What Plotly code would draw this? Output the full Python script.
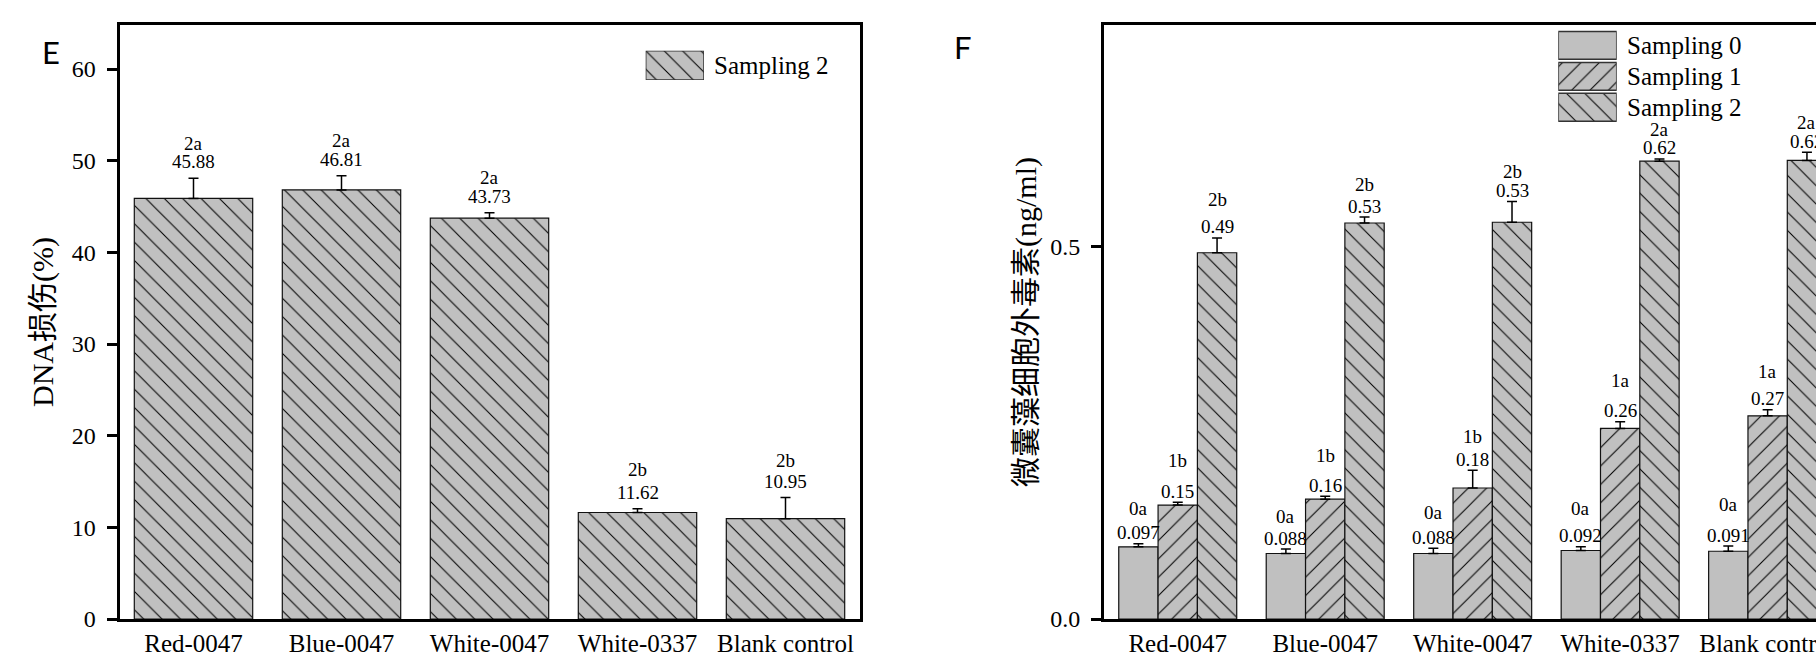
import plotly.graph_objects as go

# ---------------- data ----------------
categories = ["Red-0047", "Blue-0047", "White-0047", "White-0337", "Blank control"]

# Panel E: DNA damage (%), Sampling 2
dna_damage = [45.88, 46.81, 43.73, 11.62, 10.95]
dna_err = [2.2, 1.55, 0.6, 0.4, 2.3]
dna_labels = ["45.88", "46.81", "43.73", "11.62", "10.95"]
dna_letters = ["2a", "2a", "2a", "2b", "2b"]

# Panel F: extracellular microcystin (ng/ml)
series_names = ["Sampling 0", "Sampling 1", "Sampling 2"]
samp0 = [0.097, 0.088, 0.088, 0.092, 0.091]
samp0_err = [0.004, 0.006, 0.007, 0.005, 0.007]
samp0_labels = ["0.097", "0.088", "0.088", "0.092", "0.091"]
samp0_letters = ["0a", "0a", "0a", "0a", "0a"]

samp1 = [0.153, 0.161, 0.176, 0.256, 0.273]
samp1_err = [0.004, 0.004, 0.024, 0.009, 0.008]
samp1_labels = ["0.15", "0.16", "0.18", "0.26", "0.27"]
samp1_letters = ["1b", "1b", "1b", "1a", "1a"]

samp2 = [0.492, 0.532, 0.533, 0.615, 0.616]
samp2_err = [0.02, 0.008, 0.028, 0.003, 0.011]
samp2_labels = ["0.49", "0.53", "0.53", "0.62", "0.62"]
samp2_letters = ["2b", "2b", "2b", "2a", "2a"]

# ---------------- style / layout ----------------
W, H = 1816, 657
T, B = 25, 38
PH = H - T - B
SERIF = "'Liberation Serif', 'Times New Roman', serif"
CJK = "'Liberation Serif', 'Noto Sans CJK SC', serif"
GRAY = "#c0c0c0"
patterns = ["", "/", "\\"]
bar_w = 0.8

# pixel gaps of the letter label above the number label (style only)
left_letter_gap = [18.5, 18.5, 18.5, 23, 21]
right_letter_gap = [
    [24, 22, 25, 27, 31],
    [31, 30, 23, 30, 27],
    [27, 22, 19, 18.5, 18.5],
]


def fx(px):
    return px / W


def fy(py):
    return (H - B - py) / PH


def marker(shape):
    m = dict(color=GRAY, line=dict(color="#111111", width=1.2))
    if shape:
        m["pattern"] = dict(shape=shape, size=13, solidity=0.08,
                            fgcolor="#000000", bgcolor=GRAY, fillmode="replace")
    return m


fig = go.Figure()
xs = list(range(len(categories)))

# Panel E bars
fig.add_trace(go.Bar(
    x=xs, y=dna_damage, width=bar_w, xaxis="x", yaxis="y",
    marker=marker("\\"), showlegend=False, hoverinfo="skip",
    error_y=dict(type="data", array=dna_err, arrayminus=[0] * len(dna_err),
                 symmetric=False, color="#000000", thickness=1.5, width=5),
))

# Panel F bars
f_vals = [samp0, samp1, samp2]
f_errs = [samp0_err, samp1_err, samp2_err]
f_labels = [samp0_labels, samp1_labels, samp2_labels]
f_letters = [samp0_letters, samp1_letters, samp2_letters]
for k, name in enumerate(series_names):
    fig.add_trace(go.Bar(
        x=xs, y=f_vals[k], name=name, xaxis="x2", yaxis="y2",
        marker=marker(patterns[k]), showlegend=False, hoverinfo="skip",
        error_y=dict(type="data", array=f_errs[k], arrayminus=[0] * len(xs),
                     symmetric=False, color="#000000", thickness=1.5, width=5),
    ))

# legend swatches (drawn as bars on hidden mini-axes)
fig.add_trace(go.Bar(
    x=[1], y=[0], base=0, width=[1], orientation="h", xaxis="x3", yaxis="y3",
    marker=dict(color=GRAY, line=dict(color="#333333", width=1.5),
                pattern=dict(shape="\\", size=13, solidity=0.08, fgcolor="#000000",
                             bgcolor=GRAY, fillmode="replace")),
    showlegend=False, hoverinfo="skip"))
fig.add_trace(go.Bar(
    x=[1] * len(series_names), y=list(range(len(series_names))), base=0,
    width=[0.9] * len(series_names), orientation="h", xaxis="x4", yaxis="y4",
    marker=dict(color=GRAY, line=dict(color="#333333", width=1.5),
                pattern=dict(shape=patterns, size=13, solidity=0.08, fgcolor="#000000",
                             bgcolor=GRAY, fillmode="replace")),
    showlegend=False, hoverinfo="skip"))

ann = []
lab_font = dict(family=SERIF, size=19, color="#000000")
# Panel E value labels
for i in xs:
    top = dna_damage[i] + dna_err[i]
    ann.append(dict(x=i, y=top, xref="x", yref="y", text=dna_labels[i], showarrow=False,
                    yanchor="middle", yshift=16.5, font=lab_font))
    ann.append(dict(x=i, y=top, xref="x", yref="y", text=dna_letters[i], showarrow=False,
                    yanchor="middle", yshift=16.5 + left_letter_gap[i], font=lab_font))
# Panel F value labels
for k in range(3):
    off = (k - 1) * bar_w / 3
    for i in xs:
        top = f_vals[k][i] + f_errs[k][i]
        ann.append(dict(x=i + off, y=top, xref="x2", yref="y2", text=f_labels[k][i],
                        showarrow=False, yanchor="middle", yshift=11, font=lab_font))
        ann.append(dict(x=i + off, y=top, xref="x2", yref="y2", text=f_letters[k][i],
                        showarrow=False, yanchor="middle", yshift=11 + right_letter_gap[k][i],
                        font=lab_font))

# legend texts
leg_font = dict(family=SERIF, size=25, color="#000000")
ann.append(dict(x=fx(711.5), y=0, xref="paper", yref="y3", text="Sampling 2",
                showarrow=False, xanchor="left", yanchor="middle", font=leg_font))
for k, name in enumerate(series_names):
    ann.append(dict(x=fx(1625), y=k, xref="paper", yref="y4", text=name,
                    showarrow=False, xanchor="left", yanchor="middle", font=leg_font))

# panel letters
ann.append(dict(x=fx(51), y=fy(52), xref="paper", yref="paper", text="E", showarrow=False,
                xanchor="center", yanchor="middle",
                font=dict(family="Lato, 'Open Sans', sans-serif", size=31, color="#000000")))
ann.append(dict(x=fx(963), y=fy(47), xref="paper", yref="paper", text="F", showarrow=False,
                xanchor="center", yanchor="middle",
                font=dict(family="Lato, 'Open Sans', sans-serif", size=31, color="#000000")))

# y-axis titles
ann.append(dict(x=fx(43), y=0.5, xref="paper", yref="paper", text="DNA损伤(%)",
                textangle=-90, showarrow=False, xanchor="center", yanchor="middle",
                font=dict(family=CJK, size=30, color="#000000")))
ann.append(dict(x=fx(1026), y=0.5, xref="paper", yref="paper", text="微囊藻细胞外毒素(ng/ml)",
                textangle=-90, showarrow=False, xanchor="center", yanchor="middle",
                font=dict(family=CJK, size=30, color="#000000")))

axis_common = dict(showgrid=False, zeroline=False, linecolor="#000000", linewidth=3,
                   showline=True, automargin=False)
xtick_font = dict(family=SERIF, size=25, color="#000000")
ytick_font = dict(family=SERIF, size=24, color="#000000")

fig.update_layout(
    template="none",
    width=W, height=H,
    margin=dict(l=0, r=0, t=T, b=B, pad=0),
    paper_bgcolor="#ffffff", plot_bgcolor="rgba(0,0,0,0)",
    barmode="group", bargap=0.2, bargroupgap=0,
    showlegend=False,
    annotations=ann,
    xaxis=dict(domain=[fx(119.5), fx(859.5)], range=[-0.5, 4.5], tickvals=xs,
               ticktext=categories, ticks="", mirror=True, tickfont=xtick_font,
               anchor="y", **axis_common),
    yaxis=dict(domain=[0, 1], range=[0, 64.8], tickvals=[0, 10, 20, 30, 40, 50, 60],
               ticks="outside", ticklen=10, tickwidth=3, tickcolor="#000000",
               ticklabelstandoff=6,
               mirror=True, tickfont=ytick_font, anchor="x", **axis_common),
    xaxis2=dict(domain=[fx(1104), 1.0], range=[-0.5, 4.328], tickvals=xs,
                ticktext=categories, ticks="", mirror=True, tickfont=xtick_font,
                ticklabeloverflow="allow",
                anchor="y2", **axis_common),
    yaxis2=dict(domain=[0, 1], range=[0, 0.798], tickvals=[0, 0.5], ticktext=["0.0", "0.5"],
                ticks="outside", ticklen=10, tickwidth=3, tickcolor="#000000",
                ticklabelstandoff=6,
                mirror=False, tickfont=ytick_font, anchor="x2", **axis_common),
    xaxis3=dict(domain=[fx(645.7), fx(704)], range=[0, 1], visible=False, anchor="y3",
                fixedrange=True),
    yaxis3=dict(domain=[fy(80), fy(50.7)], range=[-0.5, 0.5], visible=False, anchor="x3",
                fixedrange=True),
    xaxis4=dict(domain=[fx(1558.3), fx(1616.7)], range=[0, 1], visible=False, anchor="y4",
                fixedrange=True),
    yaxis4=dict(domain=[fy(122.7), fy(30)], range=[2.5, -0.5], visible=False, anchor="x4",
                fixedrange=True),
)

fig.write_html("out.html", config={"displayModeBar": False},
               post_script="document.body.style.margin='0px';")
